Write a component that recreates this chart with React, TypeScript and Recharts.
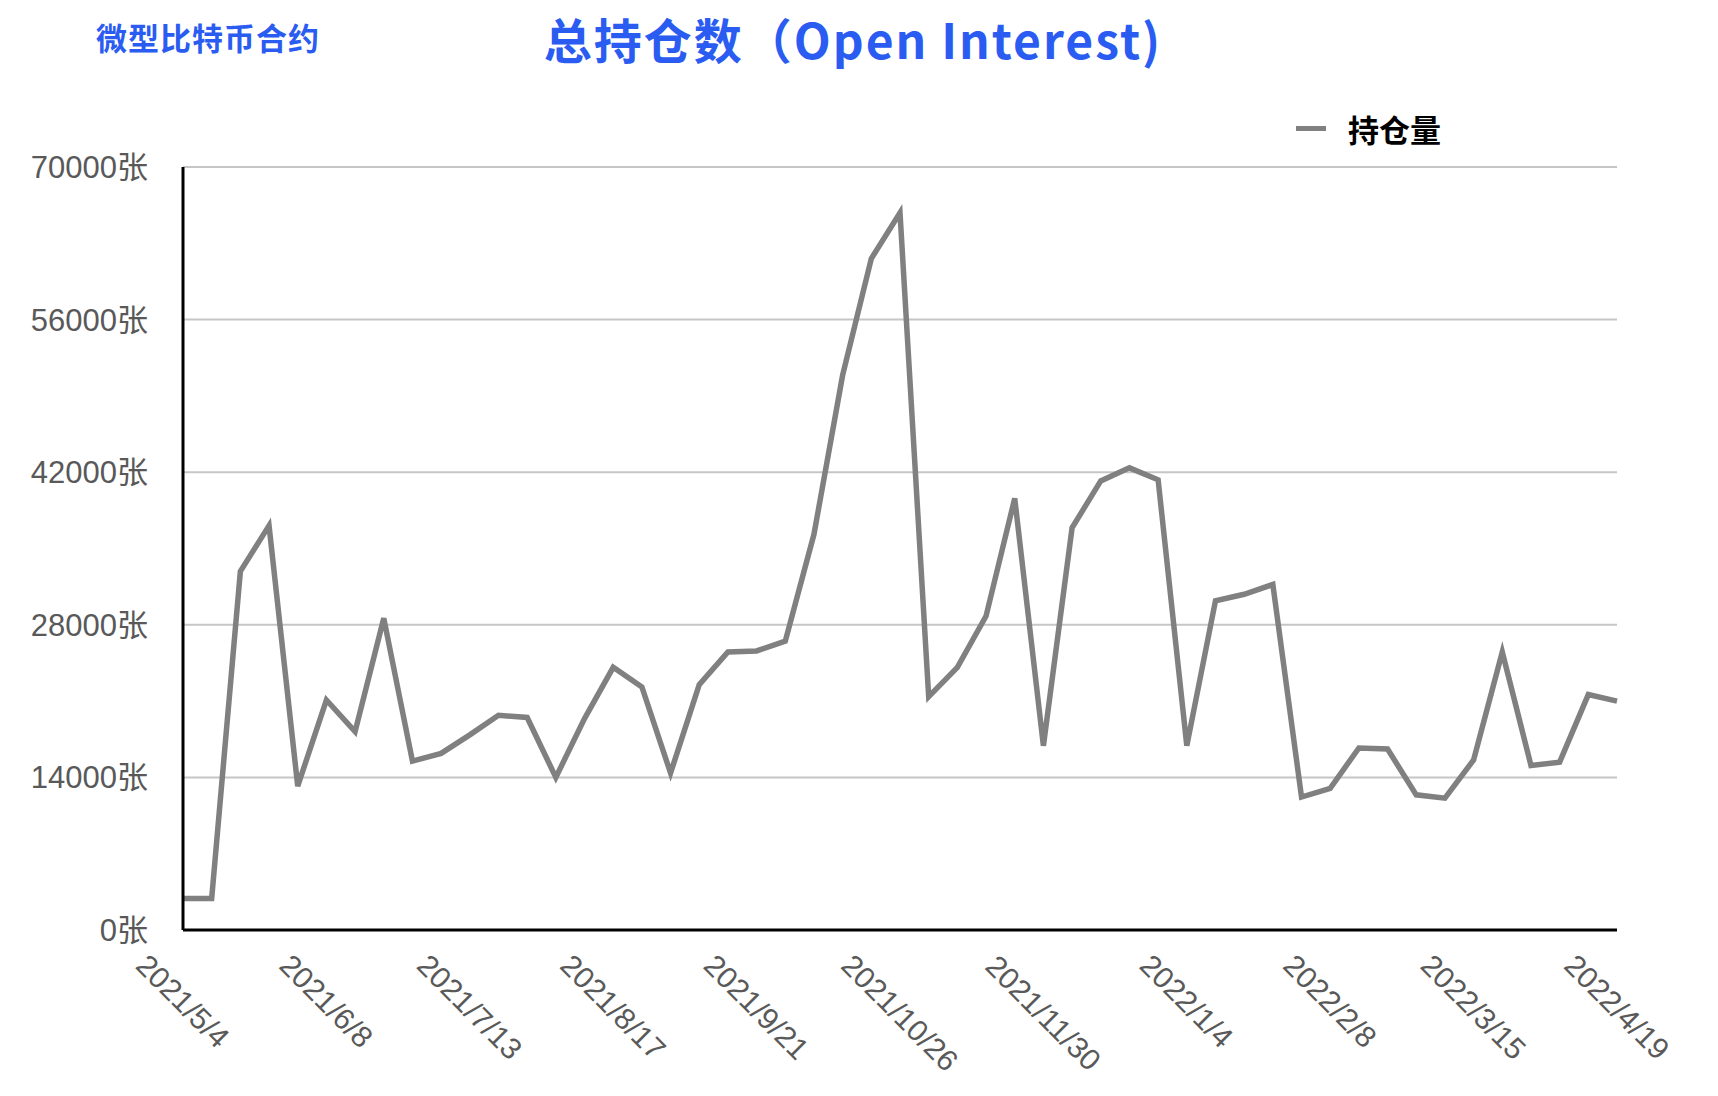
import React from "react";
import { LineChart, Line, XAxis, YAxis, CartesianGrid } from "recharts";

const dates = [
  "2021/5/4", "2021/5/11", "2021/5/18", "2021/5/25", "2021/6/1",
  "2021/6/8", "2021/6/15", "2021/6/22", "2021/6/29", "2021/7/6",
  "2021/7/13", "2021/7/20", "2021/7/27", "2021/8/3", "2021/8/10",
  "2021/8/17", "2021/8/24", "2021/8/31", "2021/9/7", "2021/9/14",
  "2021/9/21", "2021/9/28", "2021/10/5", "2021/10/12", "2021/10/19",
  "2021/10/26", "2021/11/2", "2021/11/9", "2021/11/16", "2021/11/23",
  "2021/11/30", "2021/12/7", "2021/12/14", "2021/12/21", "2021/12/28",
  "2022/1/4", "2022/1/11", "2022/1/18", "2022/1/25", "2022/2/1",
  "2022/2/8", "2022/2/15", "2022/2/22", "2022/3/1", "2022/3/8",
  "2022/3/15", "2022/3/22", "2022/3/29", "2022/4/5", "2022/4/12",
  "2022/4/19",
];

const openInterest = [
  2900, 2900, 32900, 37100, 13200,
  21100, 18200, 28600, 15500, 16200,
  17900, 19700, 19500, 14000, 19400,
  24100, 22300, 14400, 22500, 25500,
  25600, 26500, 36300, 50900, 61600,
  65800, 21400, 24100, 28800, 39600,
  16900, 36900, 41200, 42400, 41300,
  16900, 30200, 30800, 31700, 12200,
  13000, 16700, 16600, 12400, 12100,
  15600, 25500, 15100, 15400, 21600,
  21000,
];

const yTicks = [0, 14000, 28000, 42000, 56000, 70000];

const data = dates.map((d, i) => ({ date: d, oi: openInterest[i] }));

const FONT = '"Liberation Sans", "Noto Sans CJK SC", sans-serif';
const CJK = '"Noto Sans CJK SC", sans-serif';
const BLUE = "#2b5cf2";

// rough text width for the rotated date labels (Helvetica-like metrics)
function textWidth(s: string, fs: number) {
  let w = 0;
  for (const ch of s) w += ch === "/" ? 0.278 : 0.556;
  return w * fs;
}

function DateTick(props: any) {
  const { x, y, payload } = props;
  const fs = 30;
  const label = payload.value as string;
  const L = textWidth(label, fs);
  const h = 22;
  const cy = y + 14 + (L + h) * 0.3536;
  return (
    <text
      x={0}
      y={0}
      transform={`translate(${x},${cy}) rotate(45)`}
      textAnchor="middle"
      dominantBaseline="central"
      fill="#595959"
      fontSize={fs}
      fontFamily={FONT}
    >
      {label}
    </text>
  );
}

export default function App() {
  return (
    <div style={{ position: "relative", width: 1702, height: 1080 }}>
      <div
        style={{
          position: "absolute",
          left: 88,
          top: 10,
          fontFamily: CJK,
          fontWeight: 700,
          fontSize: 31,
          color: BLUE,
          lineHeight: "38px",
          whiteSpace: "nowrap",
          letterSpacing: 1,
        }}
      >
        微型比特币合约
      </div>
      <div
        style={{
          position: "absolute",
          left: 845,
          top: 0,
          transform: "translateX(-50%)",
          fontFamily: CJK,
          fontWeight: 700,
          fontSize: 48,
          color: BLUE,
          lineHeight: "60px",
          whiteSpace: "nowrap",
          letterSpacing: 2,
        }}
      >
        总持仓数（Open Interest)
      </div>
      <div
        style={{
          position: "absolute",
          left: 1288,
          top: 100,
          display: "flex",
          alignItems: "center",
          height: 40,
        }}
      >
        <div style={{ width: 30, height: 5, background: "#808080" }} />
        <span
          style={{
            marginLeft: 22,
            fontFamily: CJK,
            fontWeight: 700,
            fontSize: 31,
            color: "#000",
            whiteSpace: "nowrap",
          }}
        >
          持仓量
        </span>
      </div>
      <LineChart
        width={1702}
        height={1080}
        data={data}
        margin={{ top: 159, right: 93, bottom: 38, left: 0 }}
      >
        <CartesianGrid vertical={false} stroke="#c6c6c6" strokeWidth={2} />
        <XAxis
          dataKey="date"
          interval={4}
          tickLine={false}
          axisLine={{ stroke: "#000", strokeWidth: 3 }}
          tick={<DateTick />}
          height={120}
        />
        <YAxis
          domain={[0, 70000]}
          ticks={yTicks}
          width={175}
          tickLine={false}
          tickSize={0}
          tickMargin={35}
          axisLine={{ stroke: "#000", strokeWidth: 3 }}
          tickFormatter={(v: number) => `${v}张`}
          tick={{ fill: "#595959", fontSize: 31, fontFamily: FONT }}
        />
        <Line
          type="linear"
          dataKey="oi"
          name="持仓量"
          stroke="#808080"
          strokeWidth={5.5}
          strokeLinejoin="miter"
          dot={false}
          activeDot={false}
          isAnimationActive={false}
        />
      </LineChart>
    </div>
  );
}
